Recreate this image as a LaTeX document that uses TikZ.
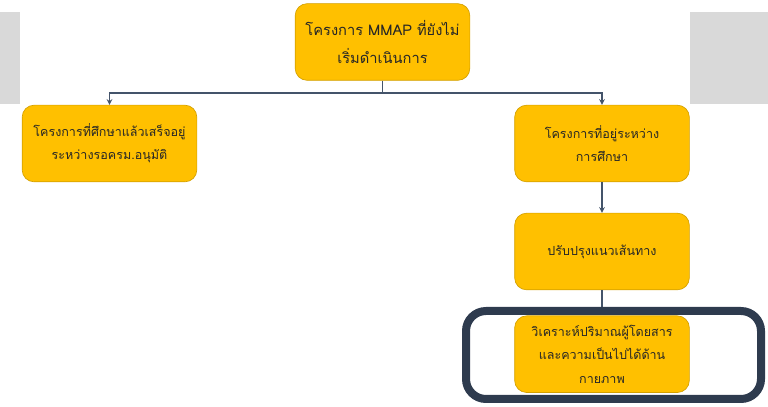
\documentclass[tikz,border=0pt]{standalone}
\usepackage{fontspec}
\newfontfamily\thaifont[Script=Thai]{Loma}
\usetikzlibrary{positioning}

\definecolor{boxfill}{HTML}{FFC000}
\definecolor{boxline}{HTML}{D4A000}
\definecolor{linkcol}{HTML}{44546A}
\definecolor{framecol}{HTML}{2E3B4E}
\definecolor{panel}{HTML}{D9D9D9}

\tikzset{
  proj/.style={draw=boxline,fill=boxfill,rounded corners=9pt,line width=0.5pt,
    minimum width=131pt,minimum height=57.5pt,align=center,
    font=\thaifont\fontsize{9.4}{17.5}\selectfont,text=black!85},
  link/.style={draw=linkcol,line width=0.9pt},
}

\begin{document}
\begin{tikzpicture}[x=0.75pt,y=0.75pt,>=stealth]
      \useasboundingbox (0,0) rectangle (768,407);
      % grey panels behind
      \fill[panel] (0,303) rectangle (20,395);
      \fill[panel] (690,303) rectangle (768,395);

      \node[proj,font=\thaifont\fontsize{11}{21.5}\selectfont] (1) at (382.5,365) {โครงการ MMAP ที่ยังไม่\\เริ่มดำเนินการ};
      \node[proj] (2) at (109.5,263.5) {โครงการที่ศึกษาแล้วเสร็จอยู่\\ระหว่างรอครม.อนุมัติ};
      \node[proj] (3) at (602,263.5) {โครงการที่อยู่ระหว่าง\\การศึกษา};
      \node[proj,below=23pt of 3] (4) {ปรับปรุงแนวเส้นทาง};
      \node[proj,below=19pt of 4] (5) {วิเคราะห์ปริมาณผู้โดยสาร\\และความเป็นไปได้ด้าน\\กายภาพ};

      \coordinate (bus) at (382.5,314);
      \draw[link] (1) -- (bus);
      \draw[link,->] (bus) -| (2);
      \draw[link,->] (bus) -| (3);
      \draw[link,->] (3) -- (4);
      \draw[link] (4) -- (5);

      % highlight frame
      \draw[framecol,line width=6pt,rounded corners=15pt] (466,8) rectangle (761,96);
    \end{tikzpicture}
\end{document}
